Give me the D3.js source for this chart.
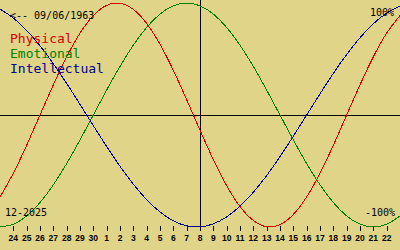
<!DOCTYPE html>
<html>
<head>
<meta charset="utf-8">
<script src="https://cdn.jsdelivr.net/npm/d3@7"></script>
<style>
  html, body { margin: 0; padding: 0; background: #E0D488; }
  svg { display: block; }
  text { font-family: "DejaVu Sans Mono", monospace; }
</style>
</head>
<body>
<svg id="chart" width="400" height="250"></svg>
<script>
// Day offsets relative to the marked day (Dec 8, 2025): -15 .. 15
const dayOffsets = [-15,-14,-13,-12,-11,-10,-9,-8,-7,-6,-5,-4,-3,-2,-1,0,1,2,3,4,5,6,7,8,9,10,11,12,13,14,15];
const dayLabels = ["23","24","25","26","27","28","29","30","1","2","3","4","5","6","7","8","9","10","11","12","13","14","15","16","17","18","19","20","21","22","23"];

const physical = [-0.7308,-0.5196,-0.2698,0,0.2698,0.5196,0.7308,0.8879,0.9791,0.9977,0.9423,0.8170,0.6311,0.3984,0.1362,-0.1362,-0.3984,-0.6311,-0.8170,-0.9423,-0.9977,-0.9791,-0.8879,-0.7308,-0.5196,-0.2698,0,0.2698,0.5196,0.7308,0.8879];
const emotional = [-1,-0.9749,-0.9010,-0.7818,-0.6235,-0.4339,-0.2225,0,0.2225,0.4339,0.6235,0.7818,0.9010,0.9749,1,0.9749,0.9010,0.7818,0.6235,0.4339,0.2225,0,-0.2225,-0.4339,-0.6235,-0.7818,-0.9010,-0.9749,-1,-0.9749,-0.9010];
const intellectual = [0.9450,0.8660,0.7557,0.6182,0.4582,0.2817,0.0951,-0.0951,-0.2817,-0.4582,-0.6182,-0.7557,-0.8660,-0.9450,-0.9898,-0.9989,-0.9718,-0.9096,-0.8146,-0.6901,-0.5406,-0.3717,-0.1893,0,0.1893,0.3717,0.5406,0.6901,0.8146,0.9096,0.9718];

const seriesNames = ["Physical","Emotional","Intellectual"];
const seriesColors = ["#d80000","#008000","#000090"];
const birthLabel = "<-- 09/06/1963";
const monthLabel = "12-2025";
const topLabel = "100%";
const bottomLabel = "-100%";

const svg = d3.select("#chart");
const W = 400, H = 250;

svg.append("rect").attr("width", W).attr("height", H).attr("fill", "#E0D488");

const x = d3.scaleLinear().domain([-15, 15]).range([0, 400]);
const y = d3.scaleLinear().domain([-1, 1]).range([227, 3]);

const px = v => Math.round(v) + 0.5;

// center lines
svg.append("line")
  .attr("x1", 0).attr("x2", W)
  .attr("y1", px(y(0))).attr("y2", px(y(0)))
  .attr("stroke", "#000").attr("stroke-width", 1).attr("shape-rendering", "crispEdges");
svg.append("line")
  .attr("x1", px(x(0))).attr("x2", px(x(0)))
  .attr("y1", 0).attr("y2", 226)
  .attr("stroke", "#000").attr("stroke-width", 1).attr("shape-rendering", "crispEdges");

// ticks and labels (skip the two edge days)
const tickIdx = d3.range(1, dayOffsets.length - 1);
const tg = svg.append("g");
tg.selectAll("line").data(tickIdx).join("line")
  .attr("x1", i => px(x(dayOffsets[i]))).attr("x2", i => px(x(dayOffsets[i])))
  .attr("y1", 226).attr("y2", 231)
  .attr("stroke", "#000").attr("shape-rendering", "crispEdges");
tg.selectAll("text").data(tickIdx).join("text")
  .attr("x", i => x(dayOffsets[i]))
  .attr("y", 241)
  .attr("text-anchor", "middle")
  .style("font-family", "'Liberation Sans', Arial, sans-serif")
  .style("font-weight", "bold")
  .style("font-size", "8.5px")
  .attr("fill", "#000")
  .text(i => dayLabels[i]);

// curves
const line = d3.line()
  .x((d, i) => x(dayOffsets[i]))
  .y(d => y(d))
  .curve(d3.curveNatural);

[physical, emotional, intellectual].forEach((s, k) => {
  svg.append("path")
    .attr("d", line(s))
    .attr("fill", "none")
    .attr("stroke", seriesColors[k])
    .attr("stroke-width", 1)
    .attr("shape-rendering", "crispEdges");
});

// texts
svg.append("text").attr("x", 10).attr("y", 19)
  .style("font-size", "10px").attr("fill", "#000").text(birthLabel);

seriesNames.forEach((n, k) => {
  svg.append("text").attr("x", 10).attr("y", 43 + k * 15)
    .style("font-size", "13px").attr("fill", seriesColors[k]).text(n);
});

svg.append("text").attr("x", 5).attr("y", 216)
  .style("font-size", "10px").attr("fill", "#000").text(monthLabel);
svg.append("text").attr("x", 394).attr("y", 16).attr("text-anchor", "end")
  .style("font-size", "10px").attr("fill", "#000").text(topLabel);
svg.append("text").attr("x", 395).attr("y", 216).attr("text-anchor", "end")
  .style("font-size", "10px").attr("fill", "#000").text(bottomLabel);
</script>
</body>
</html>
